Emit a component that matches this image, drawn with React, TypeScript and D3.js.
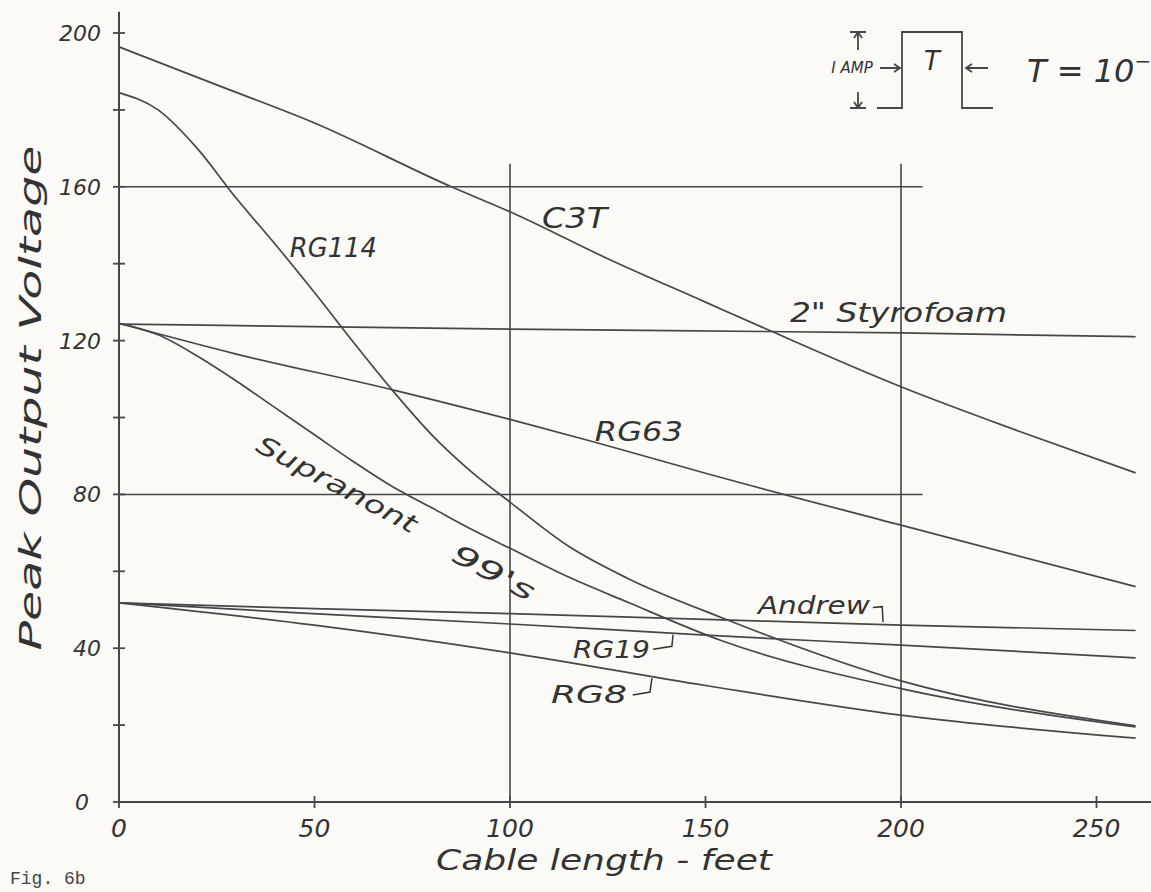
import React, { useEffect, useRef } from 'react';
import * as d3 from 'd3';

// peak output voltage vs cable length
const c3tFeet = [0, 25, 50, 85, 100, 125, 150, 166, 200, 230, 260];
const c3tVolts = [196.4, 186.5, 176.6, 160, 153.5, 141.3, 130, 122.8, 108, 96.5, 85.6];

const rg114Feet = [0, 10, 20, 30, 40, 50, 60, 70, 80, 90, 100, 115, 130, 154, 200, 260];
const rg114Volts = [184.5, 180, 170, 157, 145, 132.5, 119.5, 107, 95.5, 86, 78, 66.5, 58.2, 48, 31.5, 19.8];

const styroFeet = [0, 100, 200, 260];
const styroVolts = [124.3, 123, 122, 121];

const rg63Feet = [0, 30, 70, 100, 122, 150, 200, 260];
const rg63Volts = [124.5, 116.5, 107.2, 99.5, 93.5, 85.5, 72, 56];

const supraFeet = [0, 10, 20, 30, 40, 50, 60, 70, 80, 90, 100, 115, 130, 154, 200, 260];
const supraVolts = [124.5, 121.5, 116, 109.5, 102.5, 95.5, 88.5, 82, 76.5, 71, 66, 58.5, 52, 42, 29.5, 19.5];

const andrewFeet = [0, 50, 100, 150, 200, 260];
const andrewVolts = [51.8, 50.3, 49, 47.5, 46, 44.6];

const rg19Feet = [0, 46, 100, 150, 200, 260];
const rg19Volts = [51.8, 49.2, 46.3, 43.4, 40.8, 37.5];

const rg8Feet = [0, 50, 100, 150, 200, 260];
const rg8Volts = [51.8, 46, 38.8, 30.3, 22.6, 16.6];

const series = [
  { name: 'C3T', feet: c3tFeet, volts: c3tVolts },
  { name: 'RG114', feet: rg114Feet, volts: rg114Volts },
  { name: '2" Styrofoam', feet: styroFeet, volts: styroVolts },
  { name: 'RG63', feet: rg63Feet, volts: rg63Volts },
  { name: 'Supranont 99\'s', feet: supraFeet, volts: supraVolts },
  { name: 'Andrew', feet: andrewFeet, volts: andrewVolts },
  { name: 'RG19', feet: rg19Feet, volts: rg19Volts },
  { name: 'RG8', feet: rg8Feet, volts: rg8Volts }
];

const xTicks = [0, 50, 100, 150, 200, 250];
const yTicks = [0, 40, 80, 120, 160, 200];
const yMinorTicks = [20, 60, 100, 140, 180];
const gridFeet = [100, 200];
const gridVolts = [80, 160];

// curve labels, anchored in data units (w = drawn width in px)
const labels = [
  { text: 'C3T', ft: 108.2, v: 149.3, size: 28, rot: 0, w: 65 },
  { text: 'RG114', ft: 43.7, v: 141.7, size: 27, rot: 0, w: 87 },
  { text: '2" Styrofoam', ft: 171.6, v: 124.8, size: 26, rot: 0, w: 217 },
  { text: 'RG63', ft: 121.7, v: 93.9, size: 27, rot: 0, w: 88 },
  { text: 'Supranont', ft: 34.6, v: 91.5, size: 25, rot: 28, w: 178 },
  { text: '99\'s', ft: 84.5, v: 63, size: 27, rot: 28, w: 90 },
  { text: 'Andrew', ft: 163.4, v: 48.9, size: 24, rot: 0, w: 112 },
  { text: 'RG19', ft: 116.1, v: 37.5, size: 24, rot: 0, w: 77 },
  { text: 'RG8', ft: 110.5, v: 25.8, size: 24, rot: 0, w: 76 }
];

const App = () => {
  const chartRef = useRef<SVGSVGElement>(null);

  useEffect(() => {
    const svg = d3.select(chartRef.current);
    svg.selectAll('*').remove();

    const x = d3.scaleLinear().domain([0, 260]).range([119, 1135.6]);
    const y = d3.scaleLinear().domain([0, 200]).range([802, 33]);
    const ink = '#474747';
    const hand = '"DejaVu Sans", sans-serif';

    svg.append('rect').attr('width', 1151).attr('height', 892).attr('fill', '#fbfaf6');

    // grid lines
    gridFeet.forEach(f => {
      svg.append('line')
        .attr('x1', x(f)).attr('x2', x(f))
        .attr('y1', y(0)).attr('y2', y(166))
        .attr('stroke', ink).attr('stroke-width', 1.6);
    });
    gridVolts.forEach(v => {
      svg.append('line')
        .attr('x1', x(0)).attr('x2', x(205.5))
        .attr('y1', y(v)).attr('y2', y(v))
        .attr('stroke', ink).attr('stroke-width', 1.5);
    });

    // axes
    svg.append('line')
      .attr('x1', x(0)).attr('x2', x(0))
      .attr('y1', y(0)).attr('y2', y(205.5))
      .attr('stroke', ink).attr('stroke-width', 2);
    svg.append('line')
      .attr('x1', x(0)).attr('x2', x(264))
      .attr('y1', y(0)).attr('y2', y(0))
      .attr('stroke', ink).attr('stroke-width', 2);

    [...yTicks, ...yMinorTicks].forEach(v => {
      svg.append('line')
        .attr('x1', x(0) - 6).attr('x2', x(0) + 6)
        .attr('y1', y(v)).attr('y2', y(v))
        .attr('stroke', ink).attr('stroke-width', 1.8);
    });
    xTicks.forEach(f => {
      svg.append('line')
        .attr('x1', x(f)).attr('x2', x(f))
        .attr('y1', y(0) - 6).attr('y2', y(0) + 6)
        .attr('stroke', ink).attr('stroke-width', 1.8);
    });

    const txt = (s: string, px: number, py: number, size: number, anchor = 'start') =>
      svg.append('text')
        .attr('x', px).attr('y', py)
        .attr('font-family', hand)
        .attr('font-style', 'italic')
        .attr('font-weight', 200)
        .attr('font-size', size)
        .attr('fill', '#333')
        .attr('text-anchor', anchor)
        .text(s);

    yTicks.forEach(v => {
      txt(String(v), x(0) - (v === 0 ? 30 : 18), y(v) + 8, 22, 'end');
    });
    xTicks.forEach(f => {
      txt(String(f), x(f), y(0) + 35, 25, 'middle');
    });

    // axis titles
    txt('Cable length - feet', 604, 870, 28, 'middle')
      .attr('textLength', 336).attr('lengthAdjust', 'spacingAndGlyphs');
    txt('Peak Output Voltage', 0, 0, 31, 'middle')
      .attr('transform', 'translate(41,398) rotate(-90)')
      .attr('textLength', 505).attr('lengthAdjust', 'spacingAndGlyphs');

    svg.append('text')
      .attr('x', 10).attr('y', 884)
      .attr('font-family', '"Liberation Mono", monospace')
      .attr('font-size', 18)
      .attr('fill', '#444')
      .text('Fig. 6b');

    // curves
    const line = d3.line<[number, number]>()
      .x(d => x(d[0]))
      .y(d => y(d[1]))
      .curve(d3.curveMonotoneX);

    series.forEach(s => {
      const pts = s.feet.map((f, i) => [f, s.volts[i]] as [number, number]);
      svg.append('path')
        .datum(pts)
        .attr('fill', 'none')
        .attr('stroke', ink)
        .attr('stroke-width', 1.7)
        .attr('d', line);
    });

    labels.forEach(l => {
      const t = txt(l.text, x(l.ft), y(l.v), l.size)
        .attr('textLength', l.w).attr('lengthAdjust', 'spacingAndGlyphs');
      if (l.rot) t.attr('transform', `rotate(${l.rot},${x(l.ft)},${y(l.v)})`);
    });

    // little hooks tying labels to their lines
    const hook = (pts: [number, number][]) => {
      svg.append('path')
        .attr('d', d3.line()(pts.map(p => [x(p[0]), y(p[1])] as [number, number])))
        .attr('fill', 'none').attr('stroke', '#333').attr('stroke-width', 1.5);
    };
    hook([[192.8, 50.6], [195.2, 50.8], [195.4, 46.8]]);
    hook([[136.6, 39.7], [141.4, 40.5], [141.7, 43.5]]);
    hook([[131.4, 27.8], [135.8, 28.6], [136.3, 32.2]]);

    // pulse sketch, top right
    const g = svg.append('g').attr('stroke', ink).attr('fill', 'none').attr('stroke-width', 1.8);
    g.append('path').attr('d', 'M877,108 H902 V32 H962 V108 H993');
    g.append('path').attr('d', 'M850,32 H866 M858,32 V50 M854,38 L858,32 L862,38');
    g.append('path').attr('d', 'M850,108 H866 M858,108 V92 M854,102 L858,108 L862,102');
    g.append('path').attr('d', 'M880,68 H900 M894,64 L900,68 L894,72');
    g.append('path').attr('d', 'M988,68 H966 M972,64 L966,68 L972,72');
    txt('I AMP', 852, 73, 15, 'middle');
    txt('T', 932, 70, 26, 'middle');
    const eq = txt('T = 10', 1027, 82, 32);
    eq.append('tspan').attr('dy', -14).attr('font-size', 20).text('\u2212');
  }, []);

  return (
    <svg
      ref={chartRef}
      width={1151}
      height={892}
      style={{ position: 'absolute', left: 0, top: 0, display: 'block' }}
    />
  );
};

export default App;
